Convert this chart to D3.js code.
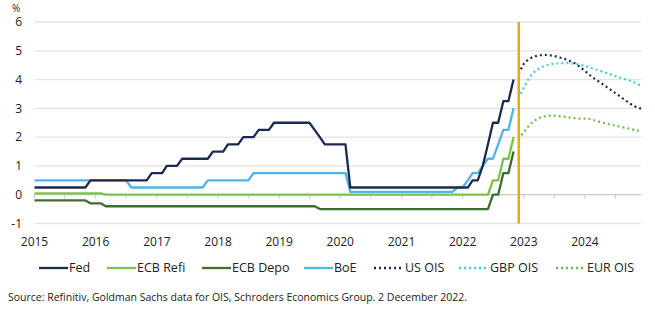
<!DOCTYPE html>
<html>
<head>
<meta charset="utf-8">
<script src="https://cdn.jsdelivr.net/npm/d3@7"></script>
<style>
  body { margin: 0; background: #fff; }
  svg { display: block; font-family: "Open Sans", sans-serif; }
</style>
</head>
<body>
<svg id="chart"></svg>
<script>
// month-end policy rates, Jan 2015 .. Nov 2022
const histStart = new Date(2015, 0, 1);
const fed = [
  0.25,0.25,0.25,0.25,0.25,0.25,0.25,0.25,0.25,0.25,0.25,0.5,
  0.5,0.5,0.5,0.5,0.5,0.5,0.5,0.5,0.5,0.5,0.5,0.75,
  0.75,0.75,1,1,1,1.25,1.25,1.25,1.25,1.25,1.25,1.5,
  1.5,1.5,1.75,1.75,1.75,2,2,2,2.25,2.25,2.25,2.5,
  2.5,2.5,2.5,2.5,2.5,2.5,2.5,2.25,2,1.75,1.75,1.75,
  1.75,1.75,0.25,0.25,0.25,0.25,0.25,0.25,0.25,0.25,0.25,0.25,
  0.25,0.25,0.25,0.25,0.25,0.25,0.25,0.25,0.25,0.25,0.25,0.25,
  0.25,0.25,0.5,0.5,1,1.75,2.5,2.5,3.25,3.25,4
];
const ecbRefi = [
  0.05,0.05,0.05,0.05,0.05,0.05,0.05,0.05,0.05,0.05,0.05,0.05,
  0.05,0.05,0,0,0,0,0,0,0,0,0,0,
  0,0,0,0,0,0,0,0,0,0,0,0,
  0,0,0,0,0,0,0,0,0,0,0,0,
  0,0,0,0,0,0,0,0,0,0,0,0,
  0,0,0,0,0,0,0,0,0,0,0,0,
  0,0,0,0,0,0,0,0,0,0,0,0,
  0,0,0,0,0,0,0.5,0.5,1.25,1.25,2
];
const ecbDepo = [
  -0.2,-0.2,-0.2,-0.2,-0.2,-0.2,-0.2,-0.2,-0.2,-0.2,-0.2,-0.3,
  -0.3,-0.3,-0.4,-0.4,-0.4,-0.4,-0.4,-0.4,-0.4,-0.4,-0.4,-0.4,
  -0.4,-0.4,-0.4,-0.4,-0.4,-0.4,-0.4,-0.4,-0.4,-0.4,-0.4,-0.4,
  -0.4,-0.4,-0.4,-0.4,-0.4,-0.4,-0.4,-0.4,-0.4,-0.4,-0.4,-0.4,
  -0.4,-0.4,-0.4,-0.4,-0.4,-0.4,-0.4,-0.4,-0.5,-0.5,-0.5,-0.5,
  -0.5,-0.5,-0.5,-0.5,-0.5,-0.5,-0.5,-0.5,-0.5,-0.5,-0.5,-0.5,
  -0.5,-0.5,-0.5,-0.5,-0.5,-0.5,-0.5,-0.5,-0.5,-0.5,-0.5,-0.5,
  -0.5,-0.5,-0.5,-0.5,-0.5,-0.5,0,0,0.75,0.75,1.5
];
const boe = [
  0.5,0.5,0.5,0.5,0.5,0.5,0.5,0.5,0.5,0.5,0.5,0.5,
  0.5,0.5,0.5,0.5,0.5,0.5,0.5,0.25,0.25,0.25,0.25,0.25,
  0.25,0.25,0.25,0.25,0.25,0.25,0.25,0.25,0.25,0.25,0.5,0.5,
  0.5,0.5,0.5,0.5,0.5,0.5,0.5,0.75,0.75,0.75,0.75,0.75,
  0.75,0.75,0.75,0.75,0.75,0.75,0.75,0.75,0.75,0.75,0.75,0.75,
  0.75,0.75,0.1,0.1,0.1,0.1,0.1,0.1,0.1,0.1,0.1,0.1,
  0.1,0.1,0.1,0.1,0.1,0.1,0.1,0.1,0.1,0.1,0.1,0.25,
  0.25,0.5,0.75,0.75,1,1.25,1.25,1.75,2.25,2.25,3
];

// market implied paths, Dec 2022 .. Dec 2024
const oisStart = new Date(2022, 11, 1);
const usOis = [4.2,4.55,4.72,4.8,4.84,4.86,4.85,4.82,4.77,4.72,4.65,4.57,4.45,4.3,4.15,4.02,3.9,3.78,3.65,3.53,3.4,3.27,3.15,3.05,2.99];
const gbpOis = [3.35,3.72,4.05,4.25,4.38,4.47,4.52,4.55,4.57,4.57,4.57,4.55,4.52,4.47,4.41,4.36,4.3,4.24,4.18,4.12,4.06,4.01,3.95,3.88,3.78];
const eurOis = [1.92,2.18,2.4,2.56,2.66,2.72,2.75,2.75,2.73,2.71,2.68,2.66,2.64,2.64,2.63,2.58,2.53,2.48,2.44,2.4,2.36,2.32,2.28,2.24,2.21];

const yTicks = [-1, 0, 1, 2, 3, 4, 5, 6];
const yearLabels = [2015, 2016, 2017, 2018, 2019, 2020, 2021, 2022, 2023, 2024];
const markerDate = new Date(2022, 11, 2);
const sourceText = "Source: Refinitiv, Goldman Sachs data for OIS, Schroders Economics Group. 2 December 2022.";

const width = 655, height = 334;

const svg = d3.select("#chart")
    .attr("width", width)
    .attr("height", height);

const x = d3.scaleTime()
    .domain([new Date(2015, 0, 1), new Date(2024, 11, 1)])
    .range([34.5, 641]);

const y = d3.scaleLinear()
    .domain([-1, 6])
    .range([223.5, 22]);

const monthly = (start, vals) => vals.map((v, i) => ({date: d3.timeMonth.offset(start, i), value: v}));

// gridlines
svg.append("g")
  .selectAll("line")
  .data(yTicks)
  .join("line")
    .attr("x1", x.range()[0])
    .attr("x2", x.range()[1])
    .attr("y1", d => y(d))
    .attr("y2", d => y(d))
    .attr("stroke", d => d === 0 ? "#c8c8c8" : "#e3e3e3")
    .attr("stroke-width", 1.3);

// half-year ticks on the zero line
const tickDates = d3.timeMonth.every(6).range(new Date(2015, 0, 1), new Date(2025, 0, 1));
svg.append("g")
  .selectAll("line")
  .data(tickDates)
  .join("line")
    .attr("x1", d => x(d))
    .attr("x2", d => x(d))
    .attr("y1", y(0))
    .attr("y2", y(0) + 4)
    .attr("stroke", "#c8c8c8");

// y labels
svg.append("g")
  .selectAll("text")
  .data(yTicks)
  .join("text")
    .attr("x", 22)
    .attr("y", d => y(d))
    .attr("dy", "0.35em")
    .attr("text-anchor", "end")
    .attr("font-size", 12)
    .attr("fill", "#222")
    .text(d => d);

svg.append("text")
    .attr("x", 12)
    .attr("y", 12)
    .attr("font-size", 10)
    .attr("fill", "#222")
    .text("%");

// x labels
svg.append("g")
  .selectAll("text")
  .data(yearLabels)
  .join("text")
    .attr("x", d => x(new Date(d, 0, 1)))
    .attr("y", 246)
    .attr("text-anchor", "middle")
    .attr("font-size", 12)
    .attr("fill", "#222")
    .text(d => d);

const series = [
  {name: "BoE", data: monthly(histStart, boe), color: "#4fb4e8", dash: null},
  {name: "ECB Refi", data: monthly(histStart, ecbRefi), color: "#7cc24a", dash: null},
  {name: "ECB Depo", data: monthly(histStart, ecbDepo), color: "#3f6d2e", dash: null},
  {name: "Fed", data: monthly(histStart, fed), color: "#1b2b50", dash: null},
  {name: "US OIS", data: monthly(oisStart, usOis), color: "#1b2b50", dash: "2,3"},
  {name: "GBP OIS", data: monthly(oisStart, gbpOis), color: "#3fcfdf", dash: "2,3"},
  {name: "EUR OIS", data: monthly(oisStart, eurOis), color: "#6cbf48", dash: "2,3"}
];

const line = d3.line()
    .x(d => x(d.date))
    .y(d => y(d.value));

svg.append("g")
  .selectAll("path")
  .data(series)
  .join("path")
    .attr("fill", "none")
    .attr("stroke", d => d.color)
    .attr("stroke-width", d => d.dash ? 2.2 : 2.3)
    .attr("stroke-dasharray", d => d.dash)
    .attr("stroke-linejoin", "round")
    .attr("d", d => line(d.data));

// today marker
svg.append("line")
    .attr("x1", x(markerDate))
    .attr("x2", x(markerDate))
    .attr("y1", y(6))
    .attr("y2", y(-1))
    .attr("stroke", "#e8a71c")
    .attr("stroke-width", 2.5);

// legend
const legendItems = [
  {name: "Fed", x0: 39, color: "#1b2b50", dash: null},
  {name: "ECB Refi", x0: 107, color: "#7cc24a", dash: null},
  {name: "ECB Depo", x0: 202, color: "#3f6d2e", dash: null},
  {name: "BoE", x0: 304, color: "#4fb4e8", dash: null},
  {name: "US OIS", x0: 374, color: "#1b2b50", dash: "2,3"},
  {name: "GBP OIS", x0: 459, color: "#3fcfdf", dash: "2,3"},
  {name: "EUR OIS", x0: 556, color: "#6cbf48", dash: "2,3"}
];

const lg = svg.append("g")
  .selectAll("g")
  .data(legendItems)
  .join("g")
    .attr("transform", d => `translate(${d.x0},268)`);

lg.append("line")
    .attr("x1", 0)
    .attr("x2", d => d.dash ? 27 : 29)
    .attr("stroke", d => d.color)
    .attr("stroke-width", 2.3)
    .attr("stroke-dasharray", d => d.dash);

lg.append("text")
    .attr("x", d => d.dash ? 31 : 30)
    .attr("dy", "0.35em")
    .attr("font-size", 12.5)
    .attr("fill", "#222")
    .text(d => d.name);

svg.append("text")
    .attr("x", 8)
    .attr("y", 301)
    .attr("font-size", 10.5)
    .attr("fill", "#222")
    .text(sourceText);
</script>
</body>
</html>
